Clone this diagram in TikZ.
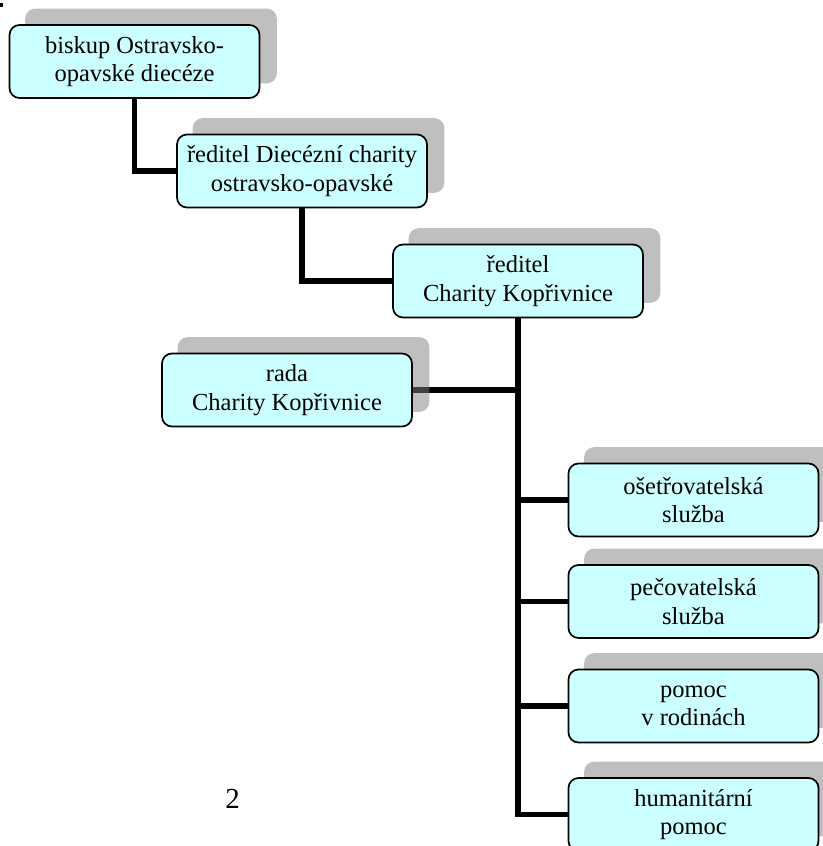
\documentclass[tikz,border=0pt]{standalone}
\usepackage{fontspec}
\setmainfont{Liberation Serif}
\pgfdeclarelayer{lines}
\pgfdeclarelayer{shadows}
\pgfsetlayers{lines,shadows,main}
\begin{document}
\begin{tikzpicture}[x=1pt,y=-1pt,
  box/.style={draw=black, line width=1.7pt, fill=boxc, rounded corners=10pt,
    minimum width=250pt, minimum height=73pt, align=center, inner sep=0pt,
    font=\fontsize{24.5}{28.5}\selectfont},
  conn/.style={line width=5.5pt, draw=black},
  shadowbox/.style={fill=black!50, opacity=0.5, rounded corners=10pt},
]
\definecolor{boxc}{HTML}{CCFFFF}
\useasboundingbox (0,0) rectangle (822,846);
\clip (0,0) rectangle (822,846);
\fill (0,3) rectangle (3,7);
\path
  node[box] (b1) at (134.5,61.5) {biskup Ostravsko-\\opavské diecéze}
  node[box] (b2) at (302,171) {ředitel Diecézní charity\\ostravsko-opavské}
  node[box] (b3) at (518,281) {ředitel\\Charity Kopřivnice}
  node[box] (b4) at (287,390) {rada\\Charity Kopřivnice}
  node[box] (b5) at (693.5,500) {ošetřovatelská\\služba}
  node[box] (b6) at (693.5,601.5) {pečovatelská\\služba}
  node[box] (b7) at (693.5,706) {pomoc\\v rodinách}
  node[box] (b8) at (693.5,814.5) {humanitární\\pomoc};
\begin{pgfonlayer}{lines}
\draw[conn] (b1.south) |- (b2.west);
\draw[conn] (b2.south) |- (b3.west);
\draw[conn] (b3.south) |- (b5.west);
\draw[conn] (b3.south) |- (b6.west);
\draw[conn] (b3.south) |- (b7.west);
\draw[conn] (b3.south) |- (b8.west);
\draw[conn] (b4.east) -- (b4.east -| b3.south);
\end{pgfonlayer}
\begin{pgfonlayer}{shadows}
\foreach \n in {b1,b2,b3,b4,b5,b6,b7,b8}{
  \fill[shadowbox]
    ([shift={(16.5,-15.5)}]\n.south west) rectangle ([shift={(16.5,-15.5)}]\n.north east);
}
\end{pgfonlayer}
\node[anchor=base, inner sep=0pt, font=\fontsize{29}{32}\selectfont] (pg) at (232.5,808) {2};
\end{tikzpicture}
\end{document}
